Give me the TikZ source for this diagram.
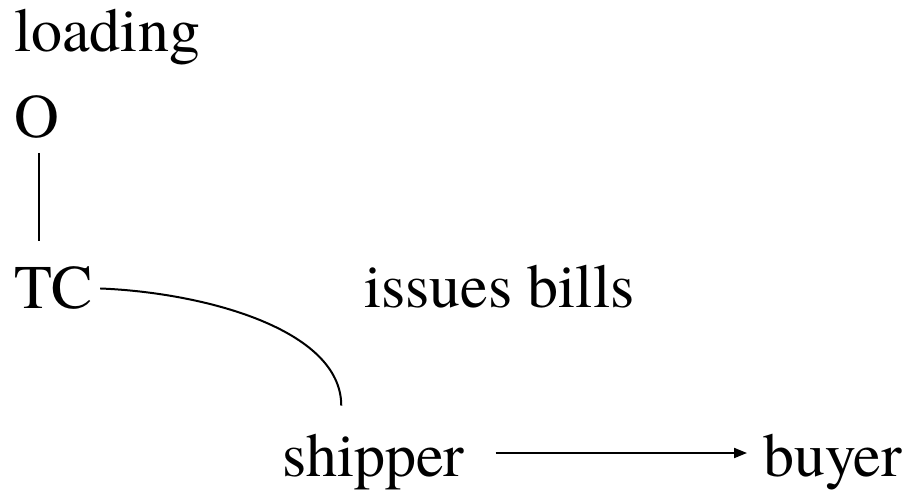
\documentclass[tikz,border=0pt]{standalone}
\usepackage{fontspec}
\setmainfont{texgyretermes}[Extension=.otf,UprightFont=*-regular]
\usepackage{tikz}
\usetikzlibrary{calc}
\usetikzlibrary{arrows.meta}

\begin{document}
\begin{tikzpicture}[x=0.5pt,y=-0.5pt,line width=1pt,
  party/.style={anchor=base west,inner sep=0pt,font=\fontsize{31}{37}\selectfont}]
  \useasboundingbox (0,0) rectangle (909,492);
  %left column
  \node[party,name=loading,at={(13,52)}]{loading};
  \node[party,name=O,at={(13,137)}]{O};
  \node[party,name=TC,at={(13,308)}]{TC};
  \draw ($(O.south)+(2.3,14)$) -- ($(TC.north -| O.south)+(2.3,-24)$);
  %middle
  \node[party,name=issues,at={(363,307)}]{issues bills};
  %bottom row
  \node[party,name=shipper,at={(281,476)}]{shipper};
  \node[party,name=buyer,at={(762,476)}]{buyer};
  \draw ($(TC.east)+(6,1)$) .. controls +(102,4) and +(0,-77) .. ($(shipper.north)+(-32,-27)$);
  \draw[-{Triangle[length=6.5pt,width=5pt]}] ($(shipper.base east)+(30,-23)$) -- ($(buyer.base west)+(-15,-23)$);
\end{tikzpicture}
\end{document}
